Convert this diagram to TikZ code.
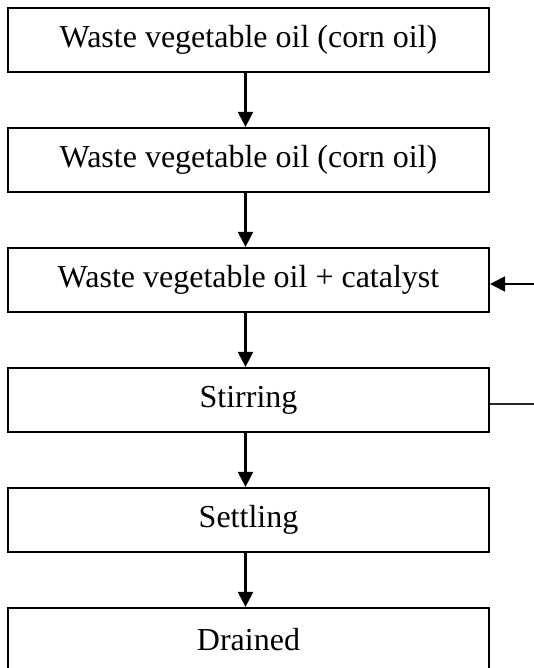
\documentclass[tikz,border=0pt]{standalone}
\usepackage{fontspec}
\setmainfont{Liberation Serif}
\usetikzlibrary{arrows.meta}
\begin{document}
\begin{tikzpicture}[x=1pt,y=-1pt,
  stepbox/.style={draw=black,line width=2.2pt,minimum width=481pt,minimum height=64pt,inner sep=0pt,font=\fontsize{32}{38}\selectfont},
  flow/.style={line width=2.2pt,-{Triangle[length=15pt,width=15pt]}},
  feed/.style={line width=2.2pt,draw=black!85}]
\useasboundingbox (0,0) rectangle (534,668);
\node[stepbox] (b1) at (248.5,40) {Waste vegetable oil (corn oil)};
\node[stepbox] (b2) at (248.5,160) {Waste vegetable oil (corn oil)};
\node[stepbox] (b3) at (248.5,280) {Waste vegetable oil + catalyst};
\node[stepbox] (b4) at (248.5,400) {Stirring};
\node[stepbox] (b5) at (248.5,520) {Settling};
\node[stepbox] (b6) at (248.5,640) {Drained};
\draw[flow] ([xshift=-3pt]b1.south) -- ([xshift=-3pt]b2.north);
\draw[flow] ([xshift=-3pt]b2.south) -- ([xshift=-3pt]b3.north);
\draw[flow] ([xshift=-3pt]b3.south) -- ([xshift=-3pt]b4.north);
\draw[flow] ([xshift=-3pt]b4.south) -- ([xshift=-3pt]b5.north);
\draw[flow] ([xshift=-3pt]b5.south) -- ([xshift=-3pt]b6.north);
\coordinate (fin) at (534,284);
\coordinate (fout) at (534,404);
\draw[flow] (fin) -- ([yshift=-4pt]b3.east);
\draw[feed] ([yshift=-4pt]b4.east) -- (fout);
\end{tikzpicture}
\end{document}
